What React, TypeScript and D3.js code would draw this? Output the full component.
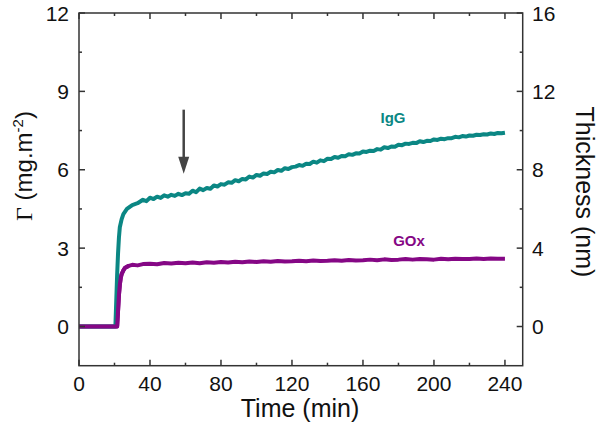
import React from "react";
import * as d3 from "d3";

const xMajor = [0, 40, 80, 120, 160, 200, 240];
const xMinor = [20, 60, 100, 140, 180, 220];
const yLeftMajor = [0, 3, 6, 9, 12];
const yLeftMinor = [1.5, 4.5, 7.5, 10.5];
const yRightMajor = [0, 4, 8, 12, 16];
const yRightMinor = [2, 6, 10, 14];

const igTime = [0, 20.5, 21, 21.5, 22, 22.5, 23, 24, 25, 27, 30, 33, 36, 38, 40, 42, 44, 46, 48, 50, 52, 54, 56, 58, 60, 62, 64, 66, 68, 70, 72, 74, 76, 78, 80, 82, 84, 86, 88, 90, 92, 94, 96, 98, 100, 102, 104, 106, 108, 110, 112, 114, 116, 118, 120, 122, 124, 126, 128, 130, 132, 134, 136, 138, 140, 142, 144, 146, 148, 150, 152, 154, 156, 158, 160, 162, 164, 166, 168, 170, 172, 174, 176, 178, 180, 182, 184, 186, 188, 190, 192, 194, 196, 198, 200, 202, 204, 206, 208, 210, 212, 214, 216, 218, 220, 222, 224, 226, 228, 230, 232, 234, 236, 238, 240];
const igValues = [0, 0, 1.0, 2.0, 2.8, 3.4, 3.8, 4.1, 4.3, 4.5, 4.65, 4.72, 4.85, 4.8, 4.93, 4.88, 4.97, 4.92, 5.02, 4.97, 5.04, 5.0, 5.08, 5.03, 5.1, 5.08, 5.2, 5.14, 5.28, 5.22, 5.3, 5.27, 5.4, 5.36, 5.45, 5.43, 5.52, 5.5, 5.6, 5.56, 5.65, 5.63, 5.74, 5.7, 5.8, 5.77, 5.86, 5.84, 5.92, 5.9, 5.99, 5.96, 6.06, 6.03, 6.1, 6.12, 6.18, 6.15, 6.23, 6.22, 6.31, 6.27, 6.36, 6.33, 6.42, 6.41, 6.49, 6.46, 6.53, 6.52, 6.59, 6.57, 6.63, 6.62, 6.7, 6.68, 6.73, 6.72, 6.79, 6.77, 6.86, 6.83, 6.89, 6.88, 6.96, 6.94, 7.0, 6.99, 7.03, 7.02, 7.09, 7.06, 7.11, 7.1, 7.16, 7.14, 7.19, 7.17, 7.21, 7.21, 7.26, 7.24, 7.29, 7.27, 7.31, 7.3, 7.34, 7.33, 7.36, 7.35, 7.39, 7.37, 7.41, 7.4, 7.42];

const goTime = [0, 21.5, 22, 22.5, 23, 23.5, 24, 25, 26, 28, 30, 33, 36, 40, 44, 48, 52, 56, 60, 64, 68, 72, 76, 80, 84, 88, 92, 96, 100, 104, 108, 112, 116, 120, 124, 128, 132, 136, 140, 144, 148, 152, 156, 160, 164, 168, 172, 176, 180, 184, 188, 192, 196, 200, 204, 208, 212, 216, 220, 224, 228, 232, 236, 240];
const goValues = [0, 0, 0.6, 1.2, 1.6, 1.85, 2.0, 2.15, 2.25, 2.32, 2.36, 2.34, 2.39, 2.4, 2.38, 2.43, 2.41, 2.44, 2.42, 2.45, 2.42, 2.46, 2.44, 2.47, 2.45, 2.48, 2.46, 2.49, 2.47, 2.5, 2.48, 2.51, 2.49, 2.5, 2.52, 2.5, 2.53, 2.51, 2.52, 2.54, 2.52, 2.55, 2.53, 2.54, 2.56, 2.54, 2.57, 2.55, 2.56, 2.58, 2.56, 2.58, 2.57, 2.56, 2.59, 2.57, 2.59, 2.58, 2.58, 2.6, 2.58, 2.6, 2.59, 2.59];

const arrowTime = [59];
const arrowRange = [8.3, 5.85];

const TEAL = "#0B8784";
const PURPLE = "#850785";
const AXIS = "#333333";
const FONT = "Arial, 'Liberation Sans', sans-serif";

export default function App() {
  const W = 600, H = 435;
  const x = d3.scaleLinear().domain([0, 250]).range([79, 522.7]);
  const y = d3.scaleLinear().domain([-1.5, 12]).range([365.7, 13]);
  const yR = d3.scaleLinear().domain([-2, 16]).range([365.7, 13]);
  const [x0, x1] = x.range();
  const [yb, yt] = y.range();
  const line = d3.line<[number, number]>().x(d => x(d[0])).y(d => y(d[1]));
  const igData = igTime.map((t, i) => [t, igValues[i]] as [number, number]);
  const goData = goTime.map((t, i) => [t, goValues[i]] as [number, number]);
  const MAJ = 6, MIN = 3;
  const ax = arrowTime[0];
  const ay0 = y(arrowRange[0]);
  const ay1 = y(arrowRange[1]);
  const ahx = x(ax);

  return (
    <svg width={W} height={H} style={{ position: "absolute", left: 0, top: 0, background: "#fff" }} fontFamily={FONT}>
      <path d={line(goData) || ""} fill="none" stroke={PURPLE} strokeWidth={4} strokeLinejoin="round" />
      <path d={line(igData) || ""} fill="none" stroke={TEAL} strokeWidth={4} strokeLinejoin="round" />
      <path d={line(goData.slice(0, 10)) || ""} fill="none" stroke={PURPLE} strokeWidth={4} strokeLinejoin="round" />

      {/* frame */}
      <rect x={x0} y={yt} width={x1 - x0} height={yb - yt} fill="none" stroke={AXIS} strokeWidth={1.5} />

      {/* x ticks */}
      {xMajor.map(v => (
        <g key={"xm" + v}>
          <line x1={x(v)} x2={x(v)} y1={yb} y2={yb - MAJ} stroke={AXIS} strokeWidth={1.5} />
          <line x1={x(v)} x2={x(v)} y1={yt} y2={yt + MAJ} stroke={AXIS} strokeWidth={1.5} />
          <text x={x(v)} y={391} textAnchor="middle" fontSize={21} fill="#111">{v}</text>
        </g>
      ))}
      {xMinor.map(v => (
        <g key={"xn" + v}>
          <line x1={x(v)} x2={x(v)} y1={yb} y2={yb - MIN} stroke={AXIS} strokeWidth={1.5} />
          <line x1={x(v)} x2={x(v)} y1={yt} y2={yt + MIN} stroke={AXIS} strokeWidth={1.5} />
        </g>
      ))}

      {/* left ticks */}
      {yLeftMajor.map(v => (
        <g key={"yl" + v}>
          <line x1={x0} x2={x0 + MAJ} y1={y(v)} y2={y(v)} stroke={AXIS} strokeWidth={1.5} />
          <text x={69} y={y(v) + 7.5} textAnchor="end" fontSize={21} fill="#111">{v}</text>
        </g>
      ))}
      {yLeftMinor.map(v => (
        <line key={"yln" + v} x1={x0} x2={x0 + MIN} y1={y(v)} y2={y(v)} stroke={AXIS} strokeWidth={1.5} />
      ))}

      {/* right ticks */}
      {yRightMajor.map(v => (
        <g key={"yr" + v}>
          <line x1={x1} x2={x1 - MAJ} y1={yR(v)} y2={yR(v)} stroke={AXIS} strokeWidth={1.5} />
          <text x={532} y={yR(v) + 7.5} textAnchor="start" fontSize={21} fill="#111">{v}</text>
        </g>
      ))}
      {yRightMinor.map(v => (
        <line key={"yrn" + v} x1={x1} x2={x1 - MIN} y1={yR(v)} y2={yR(v)} stroke={AXIS} strokeWidth={1.5} />
      ))}

      {/* arrow */}
      <line x1={ahx} x2={ahx} y1={ay0} y2={ay1 - 14} stroke="#444" strokeWidth={2.5} />
      <path d={`M${ahx - 5.5},${ay1 - 17} L${ahx + 5.5},${ay1 - 17} L${ahx},${ay1} Z`} fill="#444" />

      {/* series labels */}
      <text x={393} y={123} textAnchor="middle" fontSize={15} fontWeight="bold" fill={TEAL}>IgG</text>
      <text x={409} y={246} textAnchor="middle" fontSize={15} fontWeight="bold" fill={PURPLE}>GOx</text>

      {/* axis titles */}
      <text x={300} y={417} textAnchor="middle" fontSize={25} fill="#111">Time (min)</text>
      <text transform="translate(32,166) rotate(-90)" textAnchor="middle" fontSize={24} fill="#111">
        <tspan fontFamily="'Liberation Serif', 'Times New Roman', serif">Γ</tspan>
        <tspan> (mg.m</tspan>
        <tspan fontSize={15} dy={-9}>-2</tspan>
        <tspan dy={9}>)</tspan>
      </text>
      <text transform="translate(576,192) rotate(90)" textAnchor="middle" fontSize={25} fill="#111">Thickness (nm)</text>
    </svg>
  );
}
